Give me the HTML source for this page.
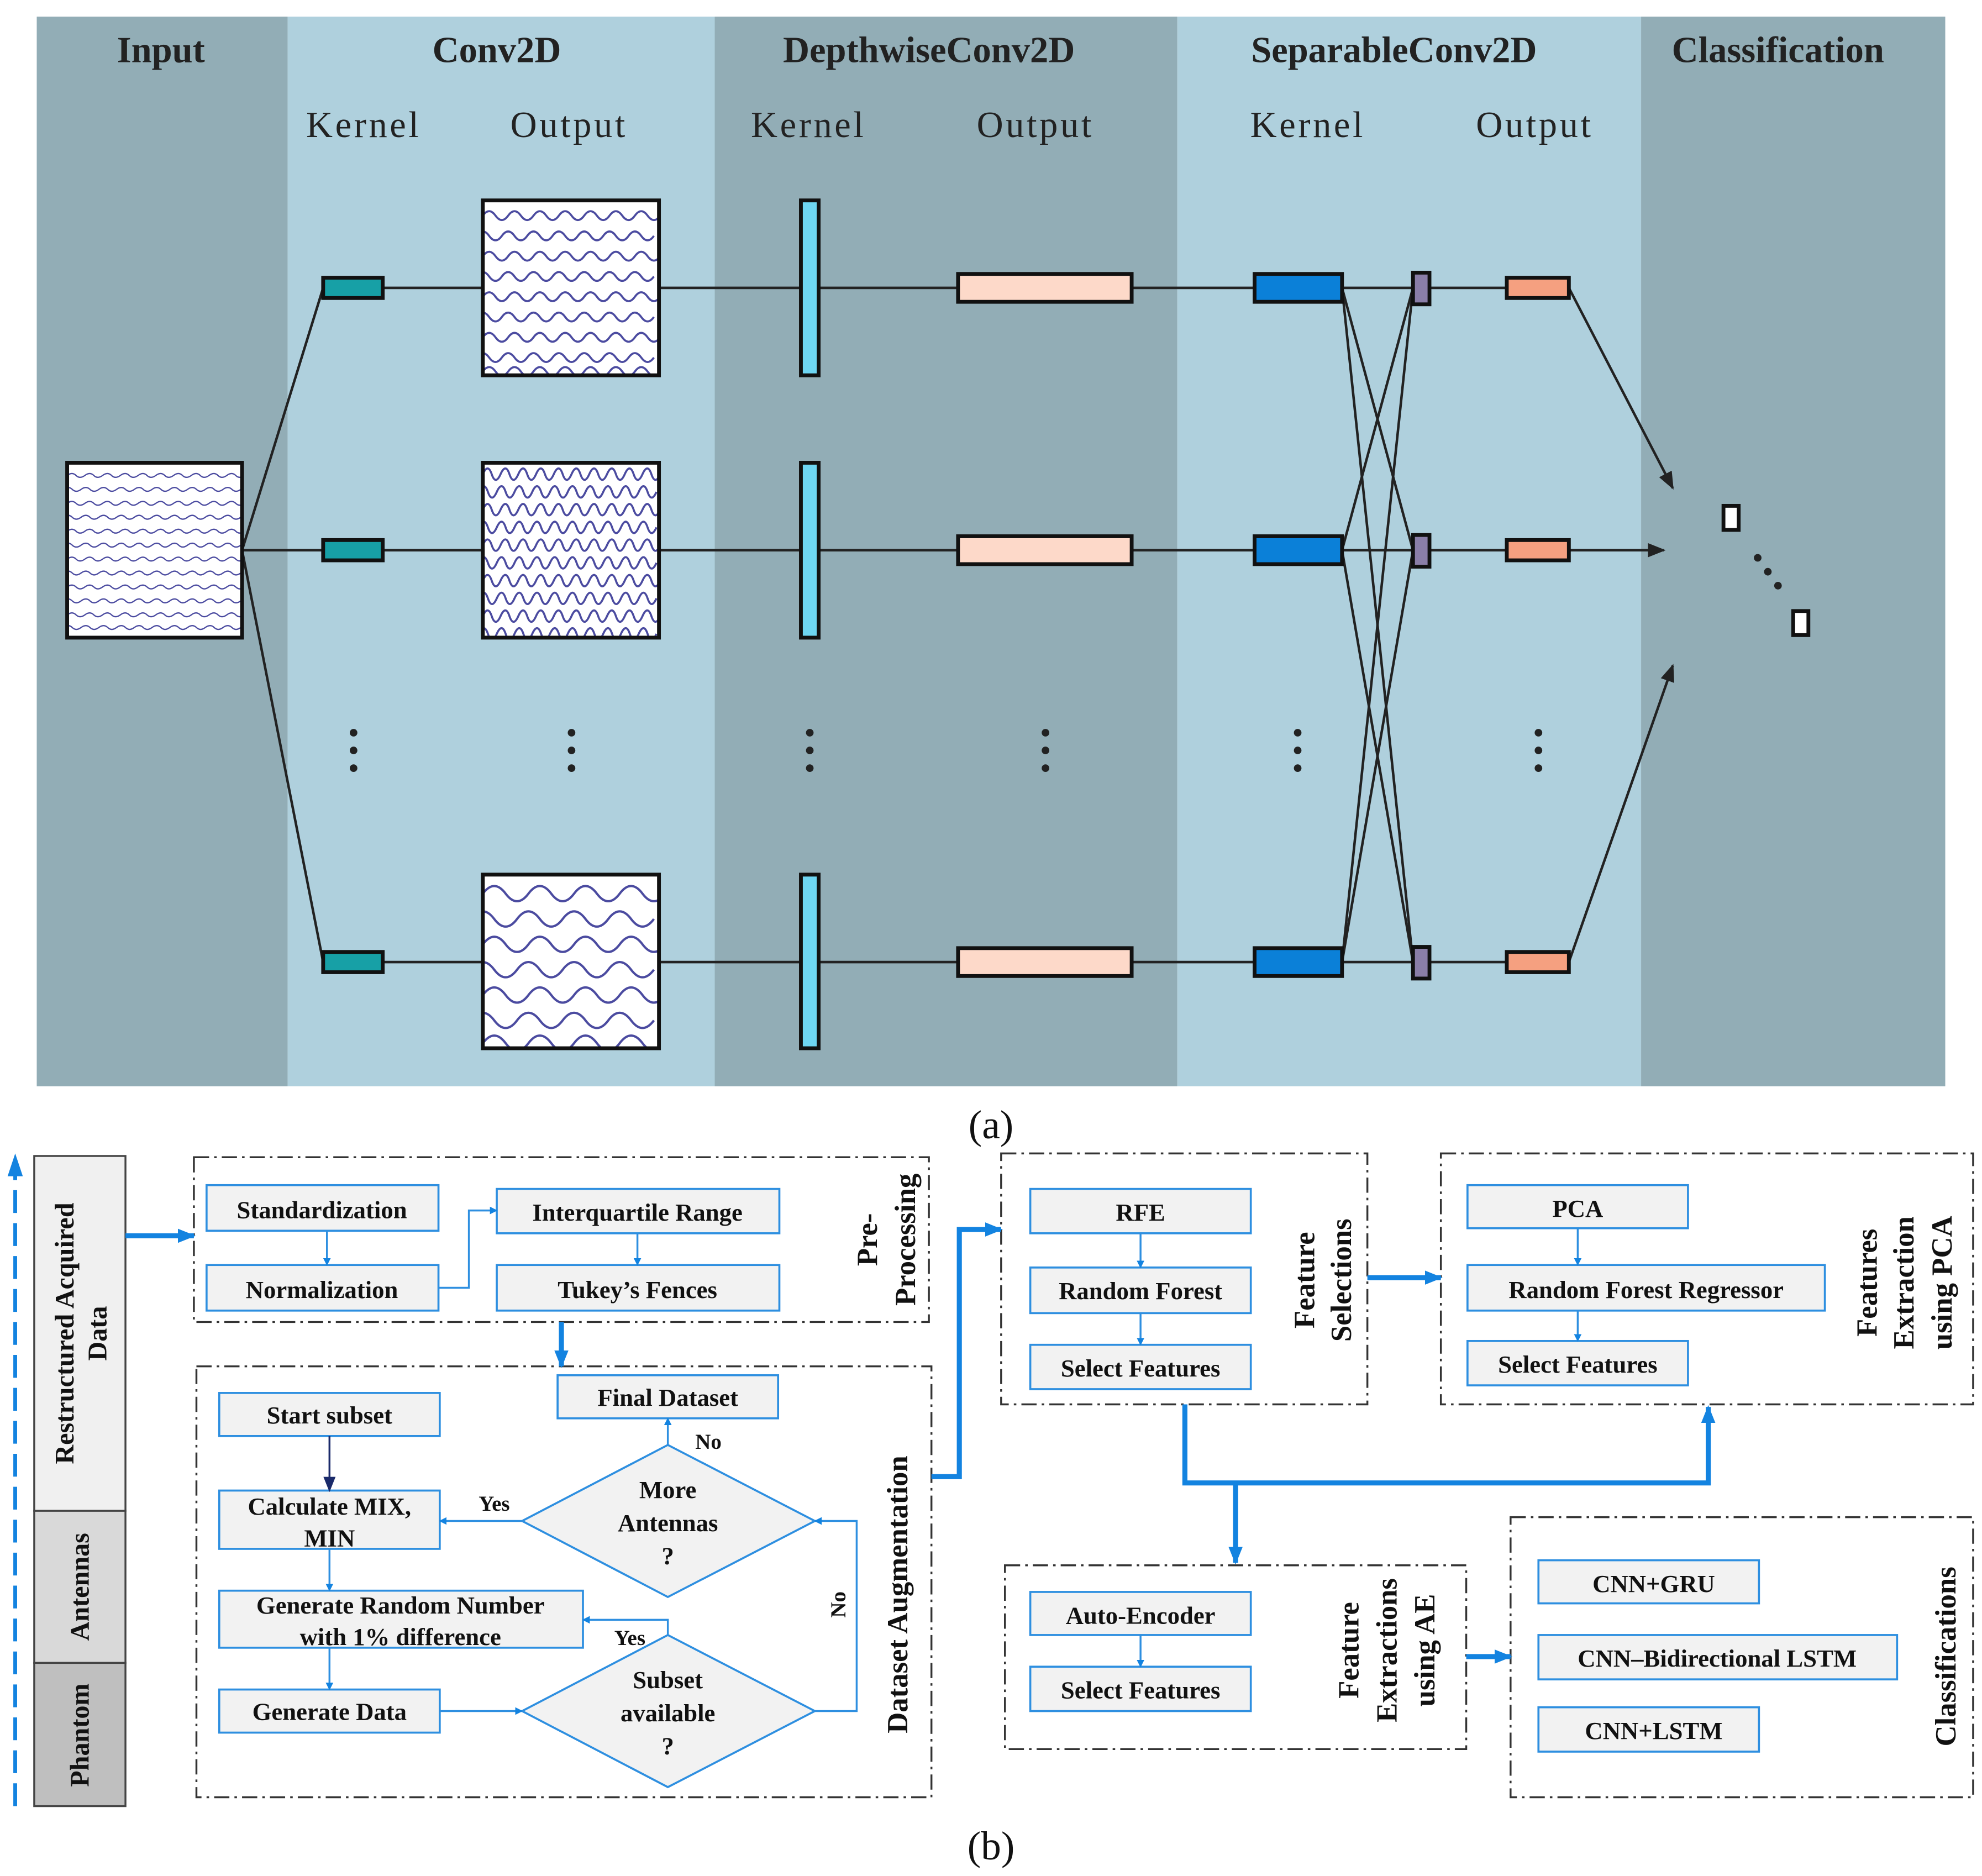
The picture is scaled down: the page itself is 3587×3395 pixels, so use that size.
<!DOCTYPE html>
<html><head><meta charset="utf-8"><style>html,body{margin:0;padding:0;background:#fff}svg{display:block}</style></head><body>
<svg xmlns="http://www.w3.org/2000/svg" xmlns:xlink="http://www.w3.org/1999/xlink" width="3587" height="3395" viewBox="0 0 1564 1480">
<defs>
<path id="w1" d="M0 0 q5 -7 10 0 t10 0 t10 0 t10 0 t10 0 t10 0 t10 0 t10 0 t10 0 t10 0 t10 0 t10 0 t10 0 t10 0" fill="none" stroke="#4b4ba0" stroke-width="1.6"/>
<path id="w2" d="M0 0 q4 -9 7 0 t7 0 t7 0 t7 0 t7 0 t7 0 t7 0 t7 0 t7 0 t7 0 t7 0 t7 0 t7 0 t7 0 t7 0 t7 0 t7 0 t7 0 t7 0 t7 0" fill="none" stroke="#4b4ba0" stroke-width="1.6"/>
<path id="w3" d="M0 0 q9 -12 18 0 t18 0 t18 0 t18 0 t18 0 t18 0 t18 0 t18 0" fill="none" stroke="#4b4ba0" stroke-width="1.8"/>
<path id="w4" d="M0 0 q4 -3 7 0 t7 0 t7 0 t7 0 t7 0 t7 0 t7 0 t7 0 t7 0 t7 0 t7 0 t7 0 t7 0 t7 0 t7 0 t7 0 t7 0 t7 0 t7 0 t7 0" fill="none" stroke="#4b4ba0" stroke-width="1"/>
<clipPath id="c1"><rect x="381" y="158" width="139" height="138"/></clipPath>
<clipPath id="c2"><rect x="381" y="365" width="139" height="138"/></clipPath>
<clipPath id="c3"><rect x="381" y="690" width="139" height="137"/></clipPath>
<clipPath id="c0"><rect x="53" y="365" width="138" height="138"/></clipPath>
<marker id="ah" viewBox="0 0 10 10" refX="9" refY="5" markerWidth="7" markerHeight="7" orient="auto"><path d="M0 1 L10 5 L0 9 z" fill="#222"/></marker>
<marker id="bh" viewBox="0 0 10 10" refX="9" refY="5" markerWidth="4" markerHeight="4" orient="auto"><path d="M0 0 L10 5 L0 10 z" fill="#1383e0"/></marker>
<marker id="sh" viewBox="0 0 10 10" refX="9" refY="5" markerUnits="userSpaceOnUse" markerWidth="14" markerHeight="14" orient="auto"><path d="M0 1 L10 5 L0 9 z" fill="#1383e0"/></marker>
<marker id="nh" viewBox="0 0 10 10" refX="9" refY="5" markerWidth="8" markerHeight="8" orient="auto"><path d="M0 1 L10 5 L0 9 z" fill="#1a2a6a"/></marker>
</defs>
<rect x="29" y="13" width="198" height="844" fill="#92adb6"/>
<rect x="227" y="13" width="337" height="844" fill="#afd0dd"/>
<rect x="564" y="13" width="365" height="844" fill="#92adb6"/>
<rect x="929" y="13" width="366" height="844" fill="#afd0dd"/>
<rect x="1295" y="13" width="240" height="844" fill="#92adb6"/>
<g font-family="Liberation Serif, serif" font-size="29" fill="#222" text-anchor="middle">
<text x="127" y="49" font-weight="bold">Input</text>
<text x="392" y="49" font-weight="bold">Conv2D</text>
<text x="733" y="49" font-weight="bold">DepthwiseConv2D</text>
<text x="1100" y="49" font-weight="bold">SeparableConv2D</text>
<text x="1403" y="49" font-weight="bold">Classification</text>
<g letter-spacing="2"><text x="287" y="108">Kernel</text><text x="449" y="108">Output</text>
<text x="638" y="108">Kernel</text><text x="817" y="108">Output</text>
<text x="1032" y="108">Kernel</text><text x="1211" y="108">Output</text></g>
</g>
<g stroke="#222" stroke-width="2" fill="none">
<line x1="191" y1="434" x2="255" y2="227"/><line x1="191" y1="434" x2="255" y2="434"/><line x1="191" y1="434" x2="255" y2="759"/>
<line x1="302" y1="227" x2="381" y2="227"/><line x1="302" y1="434" x2="381" y2="434"/><line x1="302" y1="759" x2="381" y2="759"/>
<line x1="520" y1="227" x2="1189" y2="227"/><line x1="520" y1="434" x2="1189" y2="434"/><line x1="520" y1="759" x2="1189" y2="759"/>
<line x1="1059" y1="227" x2="1115" y2="434"/><line x1="1059" y1="227" x2="1115" y2="759"/>
<line x1="1059" y1="434" x2="1115" y2="227"/><line x1="1059" y1="434" x2="1115" y2="759"/>
<line x1="1059" y1="759" x2="1115" y2="227"/><line x1="1059" y1="759" x2="1115" y2="434"/>
<line x1="1238" y1="227" x2="1320" y2="385" marker-end="url(#ah)"/>
<line x1="1238" y1="434" x2="1313" y2="434" marker-end="url(#ah)"/>
<line x1="1238" y1="759" x2="1320" y2="525" marker-end="url(#ah)"/>
</g>
<rect x="53" y="365" width="138" height="138" fill="#fff"/>
<g clip-path="url(#c0)">
<use xlink:href="#w4" x="53" y="375"/><use xlink:href="#w4" x="50" y="386"/><use xlink:href="#w4" x="53" y="397"/><use xlink:href="#w4" x="50" y="408"/><use xlink:href="#w4" x="53" y="419"/><use xlink:href="#w4" x="50" y="430"/><use xlink:href="#w4" x="53" y="441"/><use xlink:href="#w4" x="50" y="452"/><use xlink:href="#w4" x="53" y="463"/><use xlink:href="#w4" x="50" y="474"/><use xlink:href="#w4" x="53" y="485"/><use xlink:href="#w4" x="50" y="495"/>
</g>
<rect x="53" y="365" width="138" height="138" fill="none" stroke="#111" stroke-width="3"/>
<rect x="381" y="158" width="139" height="138" fill="#fff"/><rect x="381" y="365" width="139" height="138" fill="#fff"/><rect x="381" y="690" width="139" height="137" fill="#fff"/>
<g clip-path="url(#c1)"><use xlink:href="#w1" x="381" y="170"/><use xlink:href="#w1" x="376" y="186"/><use xlink:href="#w1" x="381" y="202"/><use xlink:href="#w1" x="376" y="218"/><use xlink:href="#w1" x="381" y="234"/><use xlink:href="#w1" x="376" y="250"/><use xlink:href="#w1" x="381" y="266"/><use xlink:href="#w1" x="376" y="282"/><use xlink:href="#w1" x="381" y="293"/></g>
<g clip-path="url(#c2)"><use xlink:href="#w2" x="381" y="374"/><use xlink:href="#w2" x="378" y="388"/><use xlink:href="#w2" x="381" y="402"/><use xlink:href="#w2" x="378" y="416"/><use xlink:href="#w2" x="381" y="430"/><use xlink:href="#w2" x="378" y="444"/><use xlink:href="#w2" x="381" y="458"/><use xlink:href="#w2" x="378" y="472"/><use xlink:href="#w2" x="381" y="486"/><use xlink:href="#w2" x="378" y="500"/></g>
<g clip-path="url(#c3)"><use xlink:href="#w3" x="381" y="705"/><use xlink:href="#w3" x="372" y="725"/><use xlink:href="#w3" x="381" y="745"/><use xlink:href="#w3" x="372" y="765"/><use xlink:href="#w3" x="381" y="785"/><use xlink:href="#w3" x="372" y="805"/><use xlink:href="#w3" x="381" y="823"/></g>
<g fill="none" stroke="#111" stroke-width="3"><rect x="381" y="158" width="139" height="138"/><rect x="381" y="365" width="139" height="138"/><rect x="381" y="690" width="139" height="137"/></g>
<g stroke="#111" stroke-width="3">
<rect x="255" y="219" width="47" height="16" fill="#17a0a6"/><rect x="255" y="426" width="47" height="16" fill="#17a0a6"/><rect x="255" y="751" width="47" height="16" fill="#17a0a6"/>
<rect x="632" y="158" width="14" height="138" fill="#6ed6f2"/><rect x="632" y="365" width="14" height="138" fill="#6ed6f2"/><rect x="632" y="690" width="14" height="137" fill="#6ed6f2"/>
<rect x="756" y="216" width="137" height="22" fill="#fdd9c9"/><rect x="756" y="423" width="137" height="22" fill="#fdd9c9"/><rect x="756" y="748" width="137" height="22" fill="#fdd9c9"/>
<rect x="990" y="216" width="69" height="22" fill="#0b80d8"/><rect x="990" y="423" width="69" height="22" fill="#0b80d8"/><rect x="990" y="748" width="69" height="22" fill="#0b80d8"/>
<rect x="1115" y="215" width="13" height="25" fill="#8a7ea8"/><rect x="1115" y="422" width="13" height="25" fill="#8a7ea8"/><rect x="1115" y="747" width="13" height="25" fill="#8a7ea8"/>
<rect x="1189" y="219" width="49" height="16" fill="#f5a080"/><rect x="1189" y="426" width="49" height="16" fill="#f5a080"/><rect x="1189" y="751" width="49" height="16" fill="#f5a080"/>
<rect x="1360" y="399" width="12" height="19" fill="#fff"/><rect x="1415" y="482" width="12" height="19" fill="#fff"/>
</g>
<g fill="#222">
<circle cx="1387" cy="440" r="3"/><circle cx="1395" cy="451" r="3"/><circle cx="1403" cy="462" r="3"/>
<g id="vd"><circle cx="279" cy="578" r="3"/><circle cx="279" cy="592" r="3"/><circle cx="279" cy="606" r="3"/></g>
<use xlink:href="#vd" x="172"/><use xlink:href="#vd" x="360"/><use xlink:href="#vd" x="546"/><use xlink:href="#vd" x="745"/><use xlink:href="#vd" x="935"/>
</g>
<g font-family="Liberation Serif, serif" font-size="32" fill="#111" text-anchor="middle"><text x="782" y="898">(a)</text><text x="782" y="1467">(b)</text></g>

<line x1="12" y1="1425" x2="12" y2="918" stroke="#1383e0" stroke-width="3" stroke-dasharray="18,8"/>
<path d="M6 928 L12 910 L18 928 z" fill="#1383e0"/>
<rect x="27" y="912" width="72" height="280" fill="#f0f0f0" stroke="#444" stroke-width="1.5"/>
<rect x="27" y="1192" width="72" height="120" fill="#d9d9d9" stroke="#444" stroke-width="1.5"/>
<rect x="27" y="1312" width="72" height="113" fill="#bfbfbf" stroke="#444" stroke-width="1.5"/>
<g font-family="Liberation Serif, serif" font-weight="bold" font-size="21" fill="#111" text-anchor="middle">
<text transform="translate(58,1052) rotate(-90)">Restructured Acquired</text>
<text transform="translate(84,1052) rotate(-90)">Data</text>
<text transform="translate(70,1252) rotate(-90)">Antennas</text>
<text transform="translate(70,1369) rotate(-90)">Phantom</text>
</g>
<g fill="none" stroke="#333" stroke-width="1.5" stroke-dasharray="12,4,2,4">
<rect x="153" y="913" width="580" height="130"/>
<rect x="155" y="1078" width="580" height="340"/>
<rect x="790" y="910" width="289" height="198"/>
<rect x="1137" y="910" width="420" height="198"/>
<rect x="793" y="1235" width="364" height="145"/>
<rect x="1192" y="1197" width="365" height="221"/>
</g>
<g fill="#f2f2f2" stroke="#2e8fe0" stroke-width="1.6">
<rect x="163" y="935" width="183" height="36"/><rect x="163" y="998" width="183" height="36"/>
<rect x="392" y="938" width="223" height="35"/><rect x="392" y="998" width="223" height="36"/>
<rect x="173" y="1099" width="174" height="34"/><rect x="440" y="1085" width="174" height="34"/>
<rect x="173" y="1176" width="174" height="46"/><rect x="173" y="1255" width="287" height="45"/>
<rect x="173" y="1333" width="174" height="34"/>
<path d="M412 1200 L527 1140 L643 1200 L527 1260 z"/><path d="M412 1350 L527 1290 L643 1350 L527 1410 z"/>
<rect x="813" y="938" width="174" height="35"/><rect x="813" y="1000" width="174" height="36"/><rect x="813" y="1061" width="174" height="35"/>
<rect x="1158" y="935" width="174" height="34"/><rect x="1158" y="998" width="282" height="36"/><rect x="1158" y="1058" width="174" height="35"/>
<rect x="813" y="1256" width="174" height="34"/><rect x="813" y="1315" width="174" height="35"/>
<rect x="1214" y="1231" width="174" height="34"/><rect x="1214" y="1290" width="283" height="35"/><rect x="1214" y="1347" width="174" height="35"/>
</g>
<g fill="none" stroke="#2e8fe0" stroke-width="1.5" marker-end="url(#bh)">
<line x1="258" y1="971" x2="258" y2="998"/>
<path d="M346 1016 H370 V955 H392"/>
<line x1="503" y1="973" x2="503" y2="998"/>
<line x1="260" y1="1222" x2="260" y2="1255"/>
<line x1="260" y1="1300" x2="260" y2="1333"/>
<line x1="347" y1="1350" x2="412" y2="1350"/>
<line x1="412" y1="1200" x2="347" y2="1200"/>
<line x1="527" y1="1140" x2="527" y2="1119"/>
<path d="M527 1290 V1278 H460"/>
<path d="M643 1350 H676 V1200 H643"/>
<line x1="900" y1="973" x2="900" y2="1000"/><line x1="900" y1="1036" x2="900" y2="1061"/>
<line x1="1245" y1="969" x2="1245" y2="998"/><line x1="1245" y1="1034" x2="1245" y2="1058"/>
<line x1="900" y1="1290" x2="900" y2="1315"/>
</g>
<line x1="260" y1="1133" x2="260" y2="1176" stroke="#1a2a6a" stroke-width="1.5" marker-end="url(#nh)"/>
<g fill="none" stroke="#1383e0" stroke-width="4" marker-end="url(#sh)">
<line x1="99" y1="975" x2="153" y2="975"/>
<line x1="443" y1="1043" x2="443" y2="1078"/>
<path d="M735 1165 H757 V970 H790"/>
<line x1="1079" y1="1008" x2="1137" y2="1008"/>
<path d="M935 1108 V1170 H1348 V1110"/>
<line x1="975" y1="1170" x2="975" y2="1233"/>
<line x1="1157" y1="1307" x2="1192" y2="1307"/>
</g>
<g font-family="Liberation Serif, serif" font-weight="bold" font-size="19.5" fill="#111" text-anchor="middle">
<text x="254" y="961">Standardization</text><text x="254" y="1024">Normalization</text>
<text x="503" y="963">Interquartile Range</text><text x="503" y="1024">Tukey’s Fences</text>
<text x="260" y="1123">Start subset</text><text x="527" y="1109">Final Dataset</text>
<text x="260" y="1195">Calculate MIX,</text><text x="260" y="1220">MIN</text>
<text x="316" y="1273">Generate Random Number</text><text x="316" y="1298">with 1% difference</text>
<text x="260" y="1357">Generate Data</text>
<text x="527" y="1182">More</text><text x="527" y="1208">Antennas</text><text x="527" y="1234">?</text>
<text x="527" y="1332">Subset</text><text x="527" y="1358">available</text><text x="527" y="1384">?</text>
<text x="900" y="963">RFE</text><text x="900" y="1025">Random Forest</text><text x="900" y="1086">Select Features</text>
<text x="1245" y="960">PCA</text><text x="1299" y="1024">Random Forest Regressor</text><text x="1245" y="1083">Select Features</text>
<text x="900" y="1281">Auto-Encoder</text><text x="900" y="1340">Select Features</text>
<text x="1305" y="1256">CNN+GRU</text><text x="1355" y="1315">CNN–Bidirectional LSTM</text><text x="1305" y="1372">CNN+LSTM</text>
<g font-size="17"><text x="390" y="1192">Yes</text><text x="497" y="1298">Yes</text><text x="559" y="1143">No</text>
<text transform="translate(667,1266) rotate(-90)">No</text></g>
<g font-size="23">
<text transform="translate(692,978) rotate(-90)">Pre-</text><text transform="translate(722,978) rotate(-90)">Processing</text>
<text transform="translate(716,1258) rotate(-90)">Dataset Augmentation</text>
<text transform="translate(1037,1010) rotate(-90)">Feature</text><text transform="translate(1066,1010) rotate(-90)">Selections</text>
<text transform="translate(1481,1012) rotate(-90)">Features</text><text transform="translate(1510,1012) rotate(-90)">Extraction</text><text transform="translate(1540,1012) rotate(-90)">using PCA</text>
<text transform="translate(1072,1302) rotate(-90)">Feature</text><text transform="translate(1102,1302) rotate(-90)">Extractions</text><text transform="translate(1132,1302) rotate(-90)">using AE</text>
<text transform="translate(1543,1307) rotate(-90)">Classifications</text>
</g>
</g>
</svg>
</body></html>
